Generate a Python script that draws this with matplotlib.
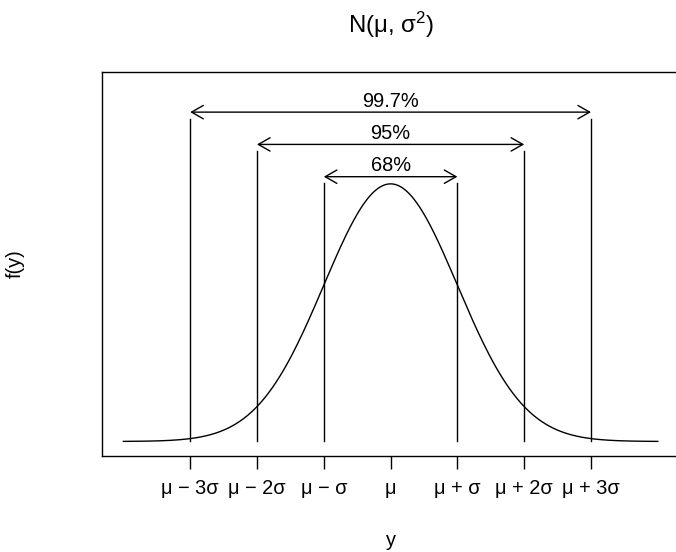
import numpy as np
import matplotlib
matplotlib.use("Agg")
import matplotlib.pyplot as plt
from matplotlib.patches import FancyArrowPatch, ArrowStyle

plt.rcParams['font.family'] = ['Liberation Sans', 'DejaVu Sans']
plt.rcParams['mathtext.fontset'] = 'custom'
plt.rcParams['mathtext.rm'] = 'Liberation Sans'
plt.rcParams['mathtext.it'] = 'Liberation Sans'

# Data
mu = 0.0
sigma = 1.0
x_range = [-4, 4]
sigma_multiples = [-3, -2, -1, 0, 1, 2, 3]
tick_labels = ['μ − 3σ', 'μ − 2σ', 'μ − σ', 'μ', 'μ + σ', 'μ + 2σ', 'μ + 3σ']
coverage_k = [1, 2, 3]
coverage_labels = ['68%', '95%', '99.7%']
line_heights = [0.40, 0.45, 0.50]

xs = np.linspace(x_range[0], x_range[1], 400)
dens = np.exp(-0.5 * ((xs - mu) / sigma) ** 2) / (sigma * np.sqrt(2 * np.pi))

fs = 14.4
fig = plt.figure(figsize=(6.76, 5.52), dpi=100)
ax = fig.add_axes([0.1509, 0.1745, 0.8538, 0.6949])
lw = 1.0

ax.plot(xs, dens, color='black', lw=lw)

for k, lab, h in zip(coverage_k, coverage_labels, line_heights):
    for s in (-k, k):
        ax.plot([mu + s * sigma, mu + s * sigma], [0, h], color='black', lw=lw)
    arr = FancyArrowPatch((mu - k * sigma, h + 0.01), (mu + k * sigma, h + 0.01),
                          arrowstyle=ArrowStyle('<->', head_length=8.4, head_width=4.8),
                          mutation_scale=1, shrinkA=0, shrinkB=0, color='black', lw=lw)
    ax.add_patch(arr)
    ax.text(mu, h + 0.027, lab, ha='center', va='center', fontsize=fs)

ax.set_xlim(-4.32, 4.32)
ax.set_ylim(-0.022, 0.572)
ax.set_xticks([mu + m * sigma for m in sigma_multiples])
ax.set_xticklabels(tick_labels, fontsize=fs)
ax.set_yticks([])
ax.tick_params(axis='x', direction='out', length=9, width=lw, pad=8)
for sp in ax.spines.values():
    sp.set_linewidth(lw)

ax.set_xlabel('y', fontsize=fs)
ax.xaxis.label.set_va('center')
ax.xaxis.set_label_coords(0.5, -0.22)
ax.set_ylabel('f(y)', fontsize=fs)
ax.yaxis.label.set_va('center')
ax.yaxis.set_label_coords(-0.1507, 0.5)
ax.text(0.5, 1.124, r'N(μ, σ$^{2}$)', fontsize=17.3, ha='center', va='center',
        transform=ax.transAxes)

fig.savefig('out.png', dpi=100)
